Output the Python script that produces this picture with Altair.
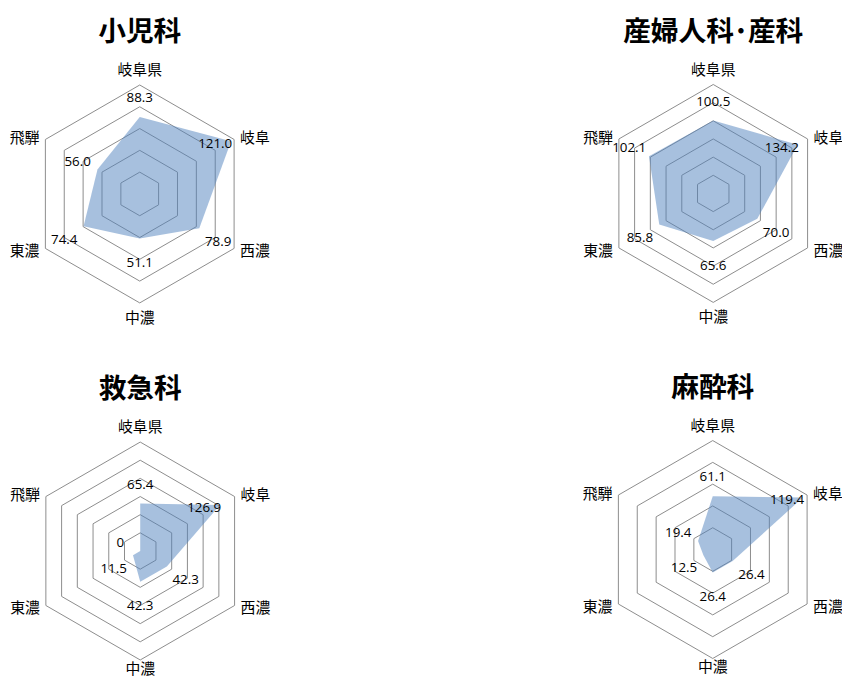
import altair as alt
import pandas as pd
import numpy as np

# ---- data ----
categories = ["岐阜県", "岐阜", "西濃", "中濃", "東濃", "飛騨"]
titles = ["小児科", "産婦人科･産科", "救急科", "麻酔科"]
pediatrics = [88.3, 121.0, 78.9, 51.1, 74.4, 56.0]
obstetrics = [100.5, 134.2, 70.0, 65.6, 85.8, 102.1]
emergency = [65.4, 126.9, 42.3, 42.3, 11.5, 0.0]
anesthesia = [61.1, 119.4, 26.4, 26.4, 12.5, 19.4]
scale_max = [125, 150, 150, 125]
ring_step = 25

series = [pediatrics, obstetrics, emergency, anesthesia]

# ---- layout (pixels) ----
W, H = 842, 672
R = 110                      # radius of outermost ring
centers = [(133, 184.5), (712, 184), (133.5, 545), (711.5, 543.5)]
title_offset = 162
# offsets of category labels from outer vertex, and their alignment
cat_off = {"岐阜県": (0, -15, "center"), "岐阜": (6, -1, "left"), "西濃": (6, 3, "left"),
           "中濃": (0, 15, "center"), "東濃": (-6, 3, "right"), "飛騨": (-6, -1, "right")}
bottom_row_low_label = 9     # bottom label of the lower row sits a bit closer so it stays visible
# offsets of value labels from data point
val_off = {"岐阜県": (0, -19), "岐阜": (-16, 3), "西濃": (19, 14),
           "中濃": (0, 25), "東濃": (-19.5, 13.5), "飛騨": (-20, -8)}


def pos(cx, cy, r, k):
    a = np.deg2rad(60 * k)
    return cx + r * np.sin(a), cy - r * np.cos(a)


poly_rows, grid_rows, cat_rows, val_rows, title_rows = [], [], [], [], []
for p, (vals, vmax, (cx, cy), t) in enumerate(zip(series, scale_max, centers, titles)):
    title_rows.append(dict(panel=p, title=t, X=cx, Y=cy - title_offset))
    for i in range(7):
        k = i % 6
        x, y = pos(cx, cy, vals[k] / vmax * R, k)
        poly_rows.append(dict(panel=p, order=i, X=x, Y=y))
    nrings = int(vmax / ring_step)
    for ring in range(1, nrings + 1):
        for i in range(7):
            k = i % 6
            x, y = pos(cx, cy, ring * ring_step / vmax * R, k)
            grid_rows.append(dict(gid=f"{p}-{ring}", order=i, X=x, Y=y))
    for k, c in enumerate(categories):
        vx, vy = pos(cx, cy, R, k)
        dx, dy, al = cat_off[c]
        if c == "中濃" and p >= 2:
            dy = bottom_row_low_label
        cat_rows.append(dict(panel=p, cat=c, align=al, X=vx + dx, Y=vy + dy))
        px, py = pos(cx, cy, vals[k] / vmax * R, k)
        ox, oy = val_off[c]
        lab = "0" if vals[k] == 0 else f"{vals[k]:.1f}"
        val_rows.append(dict(panel=p, cat=c, label=lab, X=px + ox, Y=py + oy))

poly = pd.DataFrame(poly_rows)
grid = pd.DataFrame(grid_rows)
cats = pd.DataFrame(cat_rows)
vlabs = pd.DataFrame(val_rows)
tdf = pd.DataFrame(title_rows)

xs = alt.X("X:Q", scale=alt.Scale(domain=[0, W], nice=False, zero=False), axis=None)
ys = alt.Y("Y:Q", scale=alt.Scale(domain=[0, H], nice=False, zero=False, reverse=True), axis=None)

grid_layer = alt.Chart(grid).mark_line(color="#8c8c8c", strokeWidth=1).encode(
    x=xs, y=ys, order="order:Q", detail="gid:N")

fill_layer = alt.Chart(poly).mark_line(
    fill="#4F81BD", fillOpacity=0.5, strokeWidth=0, stroke="transparent").encode(
    x=xs, y=ys, order="order:Q", detail="panel:N")

font_cjk = "Noto Sans CJK JP"
cat_layers = []
for al in ["center", "left", "right"]:
    cat_layers.append(
        alt.Chart(cats[cats["align"] == al]).mark_text(
            font=font_cjk, fontSize=15, color="#000000", align=al, baseline="middle"
        ).encode(x=xs, y=ys, text="cat:N")
    )

val_layer = alt.Chart(vlabs).mark_text(
    font="Open Sans", fontSize=13.5, color="#000000", align="center", baseline="middle"
).encode(x=xs, y=ys, text="label:N")

title_layer = alt.Chart(tdf).mark_text(
    font=font_cjk, fontSize=28, fontWeight="bold", color="#000000",
    align="center", baseline="middle"
).encode(x=xs, y=ys, text="title:N")

chart = alt.layer(grid_layer, fill_layer, *cat_layers, val_layer, title_layer).properties(
    width=W, height=H, padding=0, autosize=alt.AutoSizeParams(type="none")
).configure_view(stroke=None)

chart.save("out.html", embed_options={"renderer": "svg", "actions": False})
